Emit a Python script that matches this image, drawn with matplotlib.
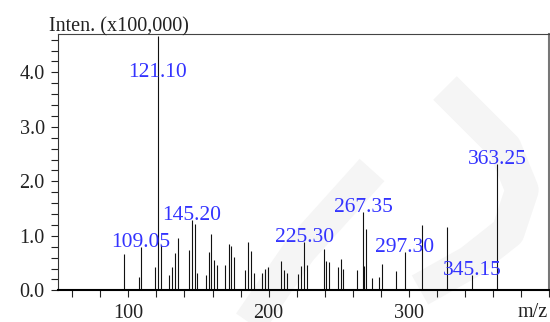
import matplotlib
matplotlib.use("Agg")
import matplotlib.pyplot as plt
from matplotlib.ticker import MultipleLocator, FixedLocator, FormatStrFormatter
from matplotlib.lines import Line2D

# Mass spectrum: m/z and intensity (x100,000)
mz = [97.2, 107.5, 109.05, 119.1, 121.10, 123.5, 128.9, 131.1, 133.2, 135.2,
      143.3, 145.20, 147.3, 149.2, 155.2, 157.3, 159.2, 161.2, 163.1, 169.0,
      171.4, 173.1, 175.3, 183.1, 185.3, 187.4, 189.3, 195.0, 197.2, 199.3,
      209.1, 211.0, 213.2, 221.1, 222.9, 225.30, 227.5, 239.4, 241.1, 243.2,
      249.4, 251.3, 253.2, 263.3, 267.35, 268.0, 269.2, 273.5, 279.0, 281.1,
      291.2, 297.30, 309.3, 327.2, 345.15, 363.25]
intensity = [0.67, 0.24, 0.79, 0.42, 4.66, 0.83, 0.28, 0.42, 0.69, 0.96,
             0.74, 1.29, 1.22, 0.32, 0.29, 0.71, 1.04, 0.56, 0.46, 0.46,
             0.85, 0.82, 0.61, 0.37, 0.88, 0.72, 0.32, 0.32, 0.40, 0.42,
             0.54, 0.38, 0.32, 0.30, 0.44, 0.89, 0.47, 0.75, 0.53, 0.52,
             0.43, 0.58, 0.40, 0.37, 1.44, 0.45, 1.13, 0.23, 0.25, 0.48,
             0.35, 0.70, 1.19, 1.16, 0.29, 2.32]

# Annotated peaks
label_mz = [109.05, 121.10, 145.20, 225.30, 267.35, 297.30, 345.15, 363.25]

# Labelled x ticks
x_major = [100, 200, 300]

W, H = 550, 322
fig = plt.figure(figsize=(W / 100, H / 100), dpi=100)
fig.patch.set_facecolor("white")

# Faint background logo strokes (figure pixel coords, origin top-left)
def fig_xy(pts):
    return [p[0] / W for p in pts], [1 - p[1] / H for p in pts]

wm_color = "#f5f5f5"
for pts in ([(445, 88), (505, 148), (522, 190), (508, 232), (470, 262), (420, 290)],
            [(372, 170), (300, 250), (245, 330)]):
    xs, ys = fig_xy(pts)
    fig.add_artist(Line2D(xs, ys, transform=fig.transFigure, color=wm_color,
                          lw=24, solid_capstyle="butt", solid_joinstyle="round",
                          zorder=0))

ax = fig.add_axes([58.3 / W, (H - 290.3) / H, 490.7 / W, 256.6 / H])
ax.set_facecolor("none")

ax.vlines(mz, 0, intensity, colors="#111111", lw=0.8, zorder=2)

ax.set_xlim(50, 400)
ax.set_ylim(0, 4.71)

serif = "Liberation Serif"
label_cap = 3.91
for m, v in zip(mz, intensity):
    if m in label_mz:
        ax.text(m, min(v, label_cap), f"{m:.2f}", ha="center", va="baseline",
                color="#3333ff", fontsize=15.5, family=serif, zorder=3)

ax.xaxis.set_major_locator(FixedLocator(x_major))
ax.xaxis.set_minor_locator(MultipleLocator(20))
ax.yaxis.set_major_locator(MultipleLocator(1.0))
ax.yaxis.set_minor_locator(MultipleLocator(0.2))
ax.yaxis.set_major_formatter(FormatStrFormatter("%.1f"))

ax.tick_params(axis="x", which="both", direction="out", length=5, width=0.8,
               color="#222222", pad=5, labelsize=14.5, labelcolor="#222222")
ax.tick_params(axis="y", which="both", direction="out", length=4.8, width=0.8,
               color="#222222", pad=5, labelsize=14.5, labelcolor="#222222")
for lab in ax.get_xticklabels() + ax.get_yticklabels():
    lab.set_family(serif)

ax.spines["bottom"].set_color("black")
ax.spines["bottom"].set_linewidth(1.5)
ax.spines["left"].set_color("#333333")
ax.spines["left"].set_linewidth(0.8)
ax.spines["top"].set_color("#444444")
ax.spines["top"].set_linewidth(0.8)
ax.spines["right"].set_color("#777777")
ax.spines["right"].set_linewidth(1.5)

fig.text(49 / W, 1 - 31.5 / H, "Inten. (x100,000)", ha="left", va="baseline",
         fontsize=14.5, family=serif, color="#222222")
fig.text(548 / W, 1 - 317 / H, "m/z", ha="right", va="baseline",
         fontsize=14.5, family=serif, color="#222222")

fig.savefig("out.png", dpi=100, facecolor="white")
